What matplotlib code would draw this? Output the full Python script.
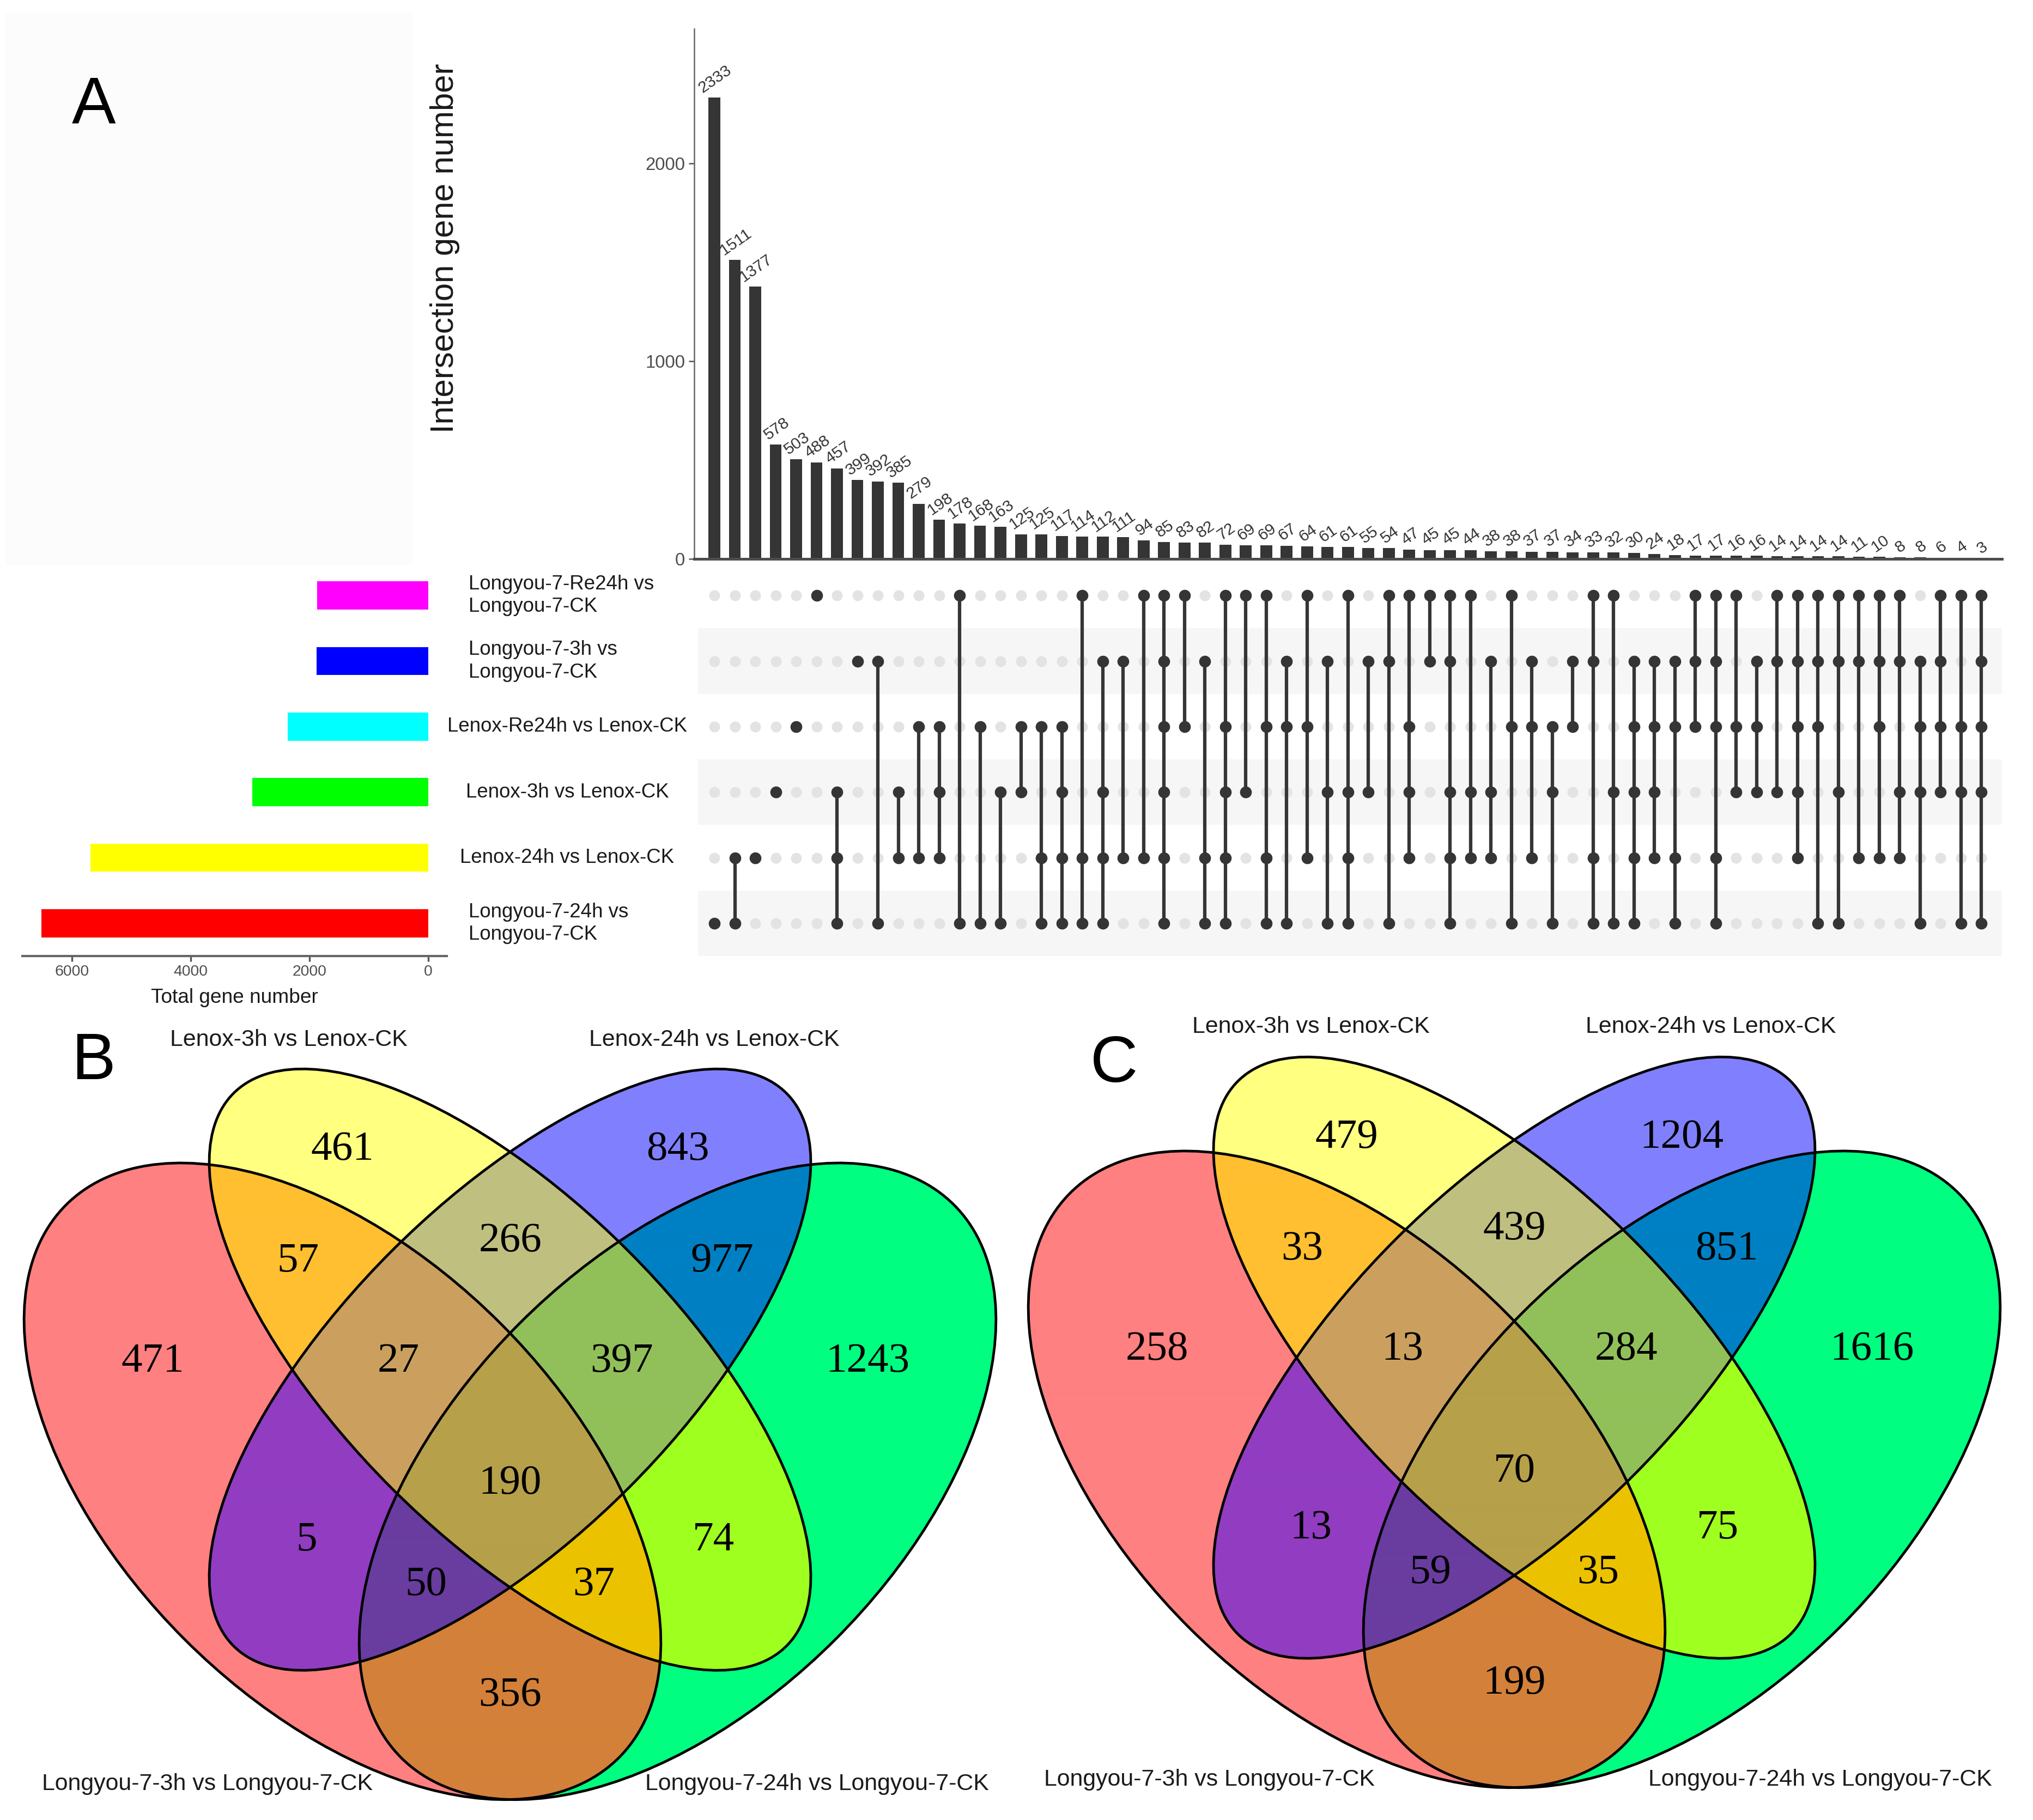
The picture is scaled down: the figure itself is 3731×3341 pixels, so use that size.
import numpy as np
import matplotlib
matplotlib.use("Agg")
import matplotlib.pyplot as plt
from matplotlib.patches import Ellipse, Rectangle

W, H = 3731, 3341
DPI = 300
SANS = ["Liberation Sans", "DejaVu Sans"]
SERIF = ["Liberation Serif", "DejaVu Serif"]
plt.rcParams['font.family'] = SANS

# ---------------- data : panel A (UpSet) ----------------
set_labels = ["Longyou-7-Re24h vs\nLongyou-7-CK", "Longyou-7-3h vs\nLongyou-7-CK",
              "Lenox-Re24h vs Lenox-CK", "Lenox-3h vs Lenox-CK",
              "Lenox-24h vs Lenox-CK", "Longyou-7-24h vs\nLongyou-7-CK"]
set_sizes = [1870, 1880, 2370, 2960, 5690, 6514]
set_colors = ["#FF00FF", "#0000FF", "#00FFFF", "#00FF00", "#FFFF00", "#FF0000"]

inter_sizes = [2333, 1511, 1377, 578, 503, 488, 457, 399, 392, 385,
               279, 198, 178, 168, 163, 125, 125, 117, 114, 112,
               111, 94, 85, 83, 82, 72, 69, 69, 67, 64,
               61, 61, 55, 54, 47, 45, 45, 44, 38, 38,
               37, 37, 34, 33, 32, 30, 24, 18, 17, 17,
               16, 16, 14, 14, 14, 14, 11, 10, 8, 8,
               6, 4, 3]
inter_sets = [[5], [4, 5], [4], [3], [2], [0], [3, 4, 5], [1], [1, 5], [3, 4],
              [2, 4], [2, 3, 4], [0, 5], [2, 5], [3, 5], [2, 3], [2, 4, 5], [2, 3, 4, 5], [0, 4, 5], [1, 3, 4, 5],
              [1, 4], [0, 4], [0, 1, 2, 3, 4, 5], [0, 2], [1, 4, 5], [0, 2, 3, 4, 5], [0, 3], [0, 2, 4, 5], [1, 2, 5], [0, 2, 4],
              [1, 3, 5], [0, 3, 4, 5], [1, 3], [0, 1, 5], [0, 2, 3, 4], [0, 1], [0, 1, 3, 4, 5], [0, 3, 4], [1, 3, 4], [0, 2, 5],
              [1, 2, 4], [2, 3, 5], [1, 2], [0, 1, 4, 5], [0, 3, 5], [1, 2, 3, 4, 5], [1, 2, 3, 4], [1, 2, 4, 5], [0, 1, 2], [0, 1, 2, 4, 5],
              [0, 2, 3], [1, 2, 3], [0, 1, 3], [0, 1, 2, 3, 4], [0, 1, 2, 5], [0, 1, 3, 5], [0, 1, 4], [0, 1, 2, 4], [0, 1, 3, 4], [1, 2, 3, 5],
              [0, 1, 2, 3], [0, 2, 3, 5], [0, 1, 2, 3, 5]]
bar_ticks = [0, 1000, 2000]
size_ticks = [6000, 4000, 2000, 0]

# ---------------- data : panels B and C (Venn) ----------------
venn_names = ["Longyou-7-3h vs Longyou-7-CK", "Lenox-3h vs Lenox-CK",
              "Lenox-24h vs Lenox-CK", "Longyou-7-24h vs Longyou-7-CK"]
venn_regions = ["0", "1", "2", "3", "01", "12", "23", "02", "13", "03",
                "012", "123", "023", "013", "0123"]
venn_B_counts = [471, 461, 843, 1243, 57, 266, 977, 5, 74, 356, 27, 397, 50, 37, 190]
venn_C_counts = [258, 479, 1204, 1616, 33, 439, 851, 13, 75, 199, 13, 284, 59, 35, 70]

# ---------------- layout / style ----------------
fig = plt.figure(figsize=(W / DPI, H / DPI), dpi=DPI)
fig.patch.set_facecolor("white")


def add_ax(x0, y0, x1, y1, **kw):
    return fig.add_axes([x0 / W, 1 - y1 / H, (x1 - x0) / W, (y1 - y0) / H], **kw)


def px2fig(x, y):
    return x / W, 1 - y / H


# faint background panel top-left
fig.patches.append(Rectangle(px2fig(13, 1035), (755 - 13) / W, (1035 - 25) / H,
                             transform=fig.transFigure, color="#FCFCFC", zorder=0))

ncol = len(inter_sizes)
XL = (-0.987, 63.0)
DARK = "#353535"

# --- intersection bars ---
axb = add_ax(1274, 53, 3674, 1026)
xs = np.arange(ncol)
axb.bar(xs, inter_sizes, width=0.58, color=DARK, zorder=2)
for i, v in enumerate(inter_sizes):
    axb.annotate(str(v), (i, v), xytext=(0.4, 0.8), textcoords="offset points",
                 ha="center", va="bottom", rotation=35, fontsize=7.2, color="#333333")
axb.set_xlim(*XL)
axb.set_ylim(0, 2680)
axb.set_xticks([])
axb.set_yticks(bar_ticks)
axb.tick_params(axis="y", labelsize=7.9, labelcolor="#4D4D4D", color="#555555",
                length=2.5, width=0.6, pad=1.5)
for s in ["top", "right"]:
    axb.spines[s].set_visible(False)
axb.spines["left"].set_color("#666666")
axb.spines["left"].set_linewidth(0.6)
axb.spines["bottom"].set_color("#4D4D4D")
axb.spines["bottom"].set_linewidth(1.2)
axb.patch.set_alpha(0)
fig.text(*px2fig(817, 456), "Intersection gene number", rotation=90,
         ha="center", va="center", fontsize=14.4, color="#1A1A1A")

# --- matrix ---
axm = add_ax(1274, 1033, 3674, 1755)
nrow = len(set_sizes)
for r in range(nrow):
    if r % 2 == 1:
        axm.axhspan(r - 0.5, r + 0.5, xmin=0.003, xmax=1.0, color="#F6F6F6", zorder=0, lw=0)
gx, gy = np.meshgrid(xs, np.arange(nrow))
axm.scatter(gx.ravel(), gy.ravel(), s=23, color="#E3E3E3", zorder=1, linewidths=0)
for i, members in enumerate(inter_sets):
    if len(members) > 1:
        axm.plot([i, i], [min(members), max(members)], color=DARK, lw=1.5, zorder=2,
                 solid_capstyle="butt")
    axm.scatter([i] * len(members), members, s=27, color=DARK, zorder=3, linewidths=0)
axm.set_xlim(*XL)
axm.set_ylim(nrow - 0.5, -0.5)
axm.axis("off")

# --- set sizes ---
axs = add_ax(41, 1033, 820, 1755)
axs.barh(np.arange(nrow), set_sizes, height=0.43, color=set_colors, zorder=2)
axs.set_xlim(6835, -312)
axs.set_ylim(nrow - 0.5, -0.5)
axs.set_yticks([])
axs.set_xticks(size_ticks)
axs.tick_params(axis="x", labelsize=6.8, labelcolor="#4D4D4D", color="#555555",
                length=2.4, width=0.8, pad=1.5)
for s in ["top", "right", "left"]:
    axs.spines[s].set_visible(False)
axs.spines["bottom"].set_color("#666666")
axs.spines["bottom"].set_linewidth(1.0)
axs.set_xlabel("Total gene number", fontsize=8.9, labelpad=4.0, color="#1A1A1A")
axs.patch.set_alpha(0)

row_px = [1093 + 120.4 * r for r in range(nrow)]
for r, lab in enumerate(set_labels):
    if "\n" in lab:
        fig.text(*px2fig(860, row_px[r]), lab, ha="left", va="center", fontsize=8.8,
                 color="#1A1A1A", linespacing=1.25)
    else:
        fig.text(*px2fig(1041, row_px[r]), lab, ha="center", va="center", fontsize=8.8,
                 color="#1A1A1A")

# ---------------- Venn diagrams ----------------
ellipses = [  # (cx, cy, a, b, angle)
    (0.35, 0.47, 0.35, 0.20, 135),
    (0.50, 0.57, 0.35, 0.15, 135),
    (0.50, 0.57, 0.35, 0.15, 45),
    (0.65, 0.47, 0.35, 0.20, 45),
]
region_colors = {"0": "#FF8080", "1": "#FFFF80", "2": "#8080FF", "3": "#00FF80",
                 "01": "#FFBF30", "12": "#BFBF80", "23": "#0080C4", "02": "#913DC1",
                 "13": "#9FFF1F", "03": "#D3803A", "012": "#CBA05F", "123": "#91C05A",
                 "023": "#6A3DA0", "013": "#EBC200", "0123": "#B6A04A"}
label_pos = {"0": (0.18, 0.577), "1": (0.35, 0.767), "2": (0.65, 0.767), "3": (0.82, 0.577),
             "01": (0.31, 0.667), "12": (0.50, 0.685), "23": (0.69, 0.667),
             "02": (0.318, 0.417), "13": (0.682, 0.417), "03": (0.50, 0.278),
             "012": (0.40, 0.577), "123": (0.60, 0.577), "023": (0.425, 0.377),
             "013": (0.575, 0.377), "0123": (0.50, 0.468)}
VX = (0.05, 0.95)
VY = (0.17, 0.90)
SC = 2050.0


def inside(px, py, cx, cy, a, b, ang):
    t = np.deg2rad(ang)
    dx, dy = px - cx, py - cy
    u = dx * np.cos(t) + dy * np.sin(t)
    v = -dx * np.sin(t) + dy * np.cos(t)
    return (u / a) ** 2 + (v / b) ** 2 <= 1.0


def rgb(h):
    h = h.lstrip("#")
    return [int(h[k:k + 2], 16) / 255 for k in (0, 2, 4)]


def draw_venn(cx_px, cy_px, counts, title_pos):
    x0 = cx_px + (VX[0] - 0.5) * SC
    x1 = cx_px + (VX[1] - 0.5) * SC
    y0 = cy_px - (VY[1] - 0.755) * SC
    y1 = cy_px + (0.755 - VY[0]) * SC
    ax = add_ax(x0, y0, x1, y1)
    nx, ny = int(round(x1 - x0)), int(round(y1 - y0))
    gxv = np.linspace(VX[0], VX[1], nx)
    gyv = np.linspace(VY[0], VY[1], ny)
    PX, PY = np.meshgrid(gxv, gyv)
    masks = [inside(PX, PY, *e) for e in ellipses]
    img = np.zeros((ny, nx, 4))
    for key, col in region_colors.items():
        m = np.ones_like(PX, dtype=bool)
        for k in range(4):
            m &= masks[k] if str(k) in key else ~masks[k]
        img[m, :3] = rgb(col)
        img[m, 3] = 1.0
    ax.imshow(img, extent=(VX[0], VX[1], VY[0], VY[1]), origin="lower",
              aspect="auto", interpolation="antialiased", zorder=1)
    for (cx, cy, a, b, ang) in ellipses:
        ax.add_patch(Ellipse((cx, cy), 2 * a, 2 * b, angle=ang, fill=False,
                             edgecolor="black", lw=1.15, zorder=2))
    for key, val in zip(venn_regions, counts):
        lx, ly = label_pos[key]
        ax.text(lx, ly, str(val), ha="center", va="center", family=SERIF,
                fontsize=18.5, zorder=3)
    for name, (tx, ty) in zip(venn_names, title_pos):
        ax.text(tx, ty, name, ha="center", va="center", fontsize=10.3, zorder=3,
                color="#1A1A1A")
    ax.set_xlim(*VX)
    ax.set_ylim(*VY)
    ax.axis("off")
    return ax


draw_venn(936, 2135, venn_B_counts,
          [(0.229, 0.199), (0.302, 0.865), (0.683, 0.865), (0.775, 0.199)])
draw_venn(2779, 2113, venn_C_counts,
          [(0.227, 0.192), (0.318, 0.866), (0.676, 0.866), (0.774, 0.192)])

# panel letters
fig.text(*px2fig(172, 195), "A", ha="center", va="center", fontsize=29)
fig.text(*px2fig(171, 1950), "B", ha="center", va="center", fontsize=29)
fig.text(*px2fig(2045, 1955), "C", ha="center", va="center", fontsize=29)

fig.savefig("out.png", dpi=DPI, facecolor="white")
